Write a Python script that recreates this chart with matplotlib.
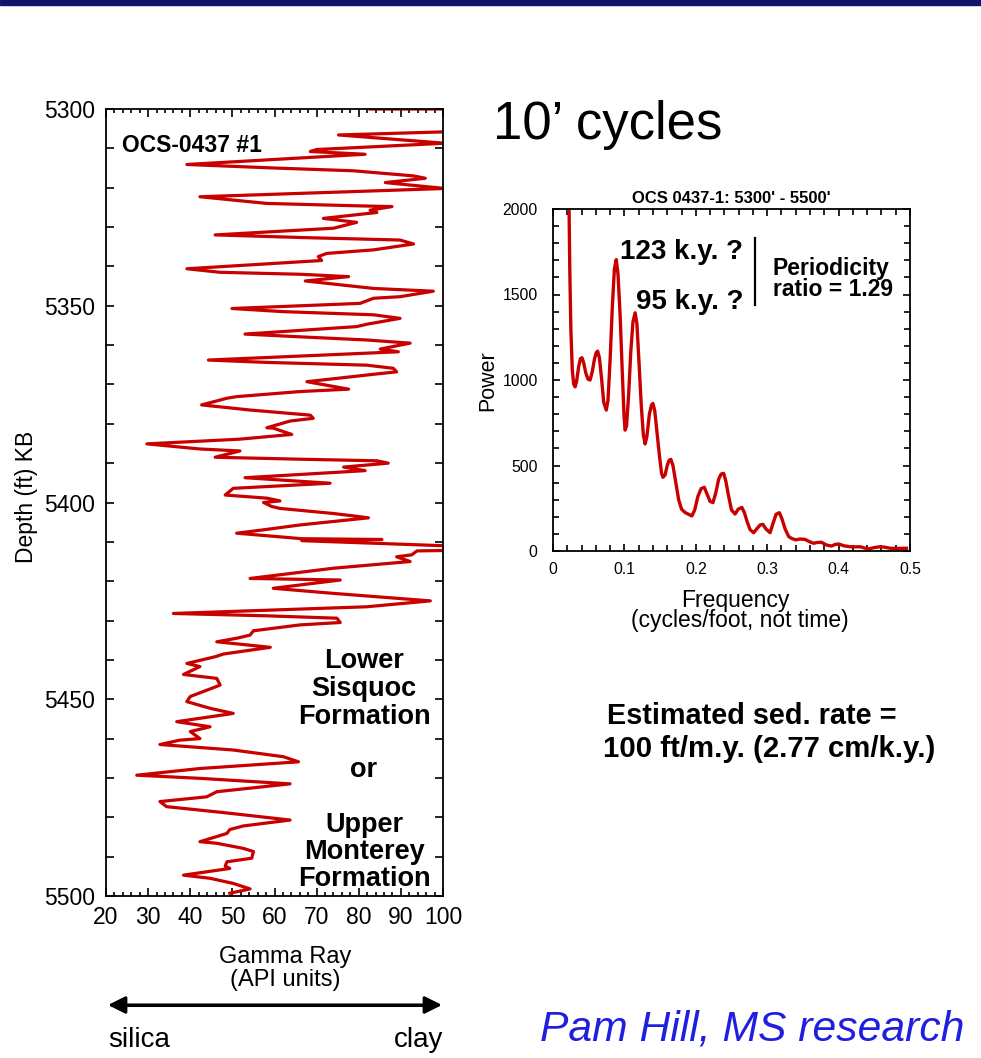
import numpy as np
import matplotlib
matplotlib.use("Agg")
import matplotlib.pyplot as plt
from matplotlib.patches import Rectangle
from matplotlib.lines import Line2D

plt.rcParams["font.family"] = ["Liberation Sans", "DejaVu Sans"]

# gamma ray log, OCS-0437 #1 (depth in ft KB, GR in API units)
depth = [5300.0, 5300.0, 5305.8, 5306.6, 5308.7, 5310.3, 5310.8, 5311.5, 5314.1, 5315.0,
         5315.7, 5317.0, 5317.6, 5318.7, 5320.2, 5322.3, 5324.0, 5324.6, 5324.8, 5325.7,
         5326.3, 5327.8, 5328.8, 5330.3, 5332.0, 5332.7, 5333.3, 5334.3, 5335.8, 5336.7,
         5337.5, 5338.5, 5340.6, 5341.5, 5342.0, 5342.6, 5343.7, 5345.6, 5346.3, 5347.7,
         5348.1, 5349.4, 5350.7, 5351.5, 5352.3, 5353.2, 5354.7, 5355.3, 5357.2, 5357.9,
         5358.7, 5359.5, 5361.0, 5361.7, 5363.8, 5364.4, 5365.1, 5365.9, 5366.8, 5367.3,
         5369.3, 5371.2, 5371.8, 5373.1, 5373.5, 5375.2, 5376.5, 5377.8, 5378.6, 5379.3,
         5381.0, 5381.1, 5382.7, 5383.9, 5385.1, 5386.4, 5386.9, 5388.5, 5389.0, 5389.4,
         5390.0, 5391.0, 5391.9, 5393.7, 5395.1, 5396.4, 5398.1, 5398.9, 5399.6, 5400.0,
         5401.0, 5401.5, 5402.8, 5403.4, 5403.9, 5405.7, 5407.0, 5407.8, 5409.2, 5409.4,
         5409.7, 5411.0, 5412.2, 5412.3, 5413.3, 5413.8, 5415.0, 5416.7, 5419.3, 5419.7,
         5421.8, 5423.1, 5425.0, 5426.5, 5428.2, 5428.8, 5429.4, 5430.5, 5431.1, 5432.6,
         5433.7, 5434.5, 5435.4, 5436.8, 5438.5, 5439.2, 5440.9, 5441.7, 5443.7, 5444.7,
         5446.4, 5449.3, 5450.6, 5452.3, 5453.6, 5455.7, 5457.0, 5458.2, 5460.0, 5460.4,
         5461.5, 5462.9, 5464.6, 5465.9, 5467.6, 5469.3, 5470.1, 5471.5, 5473.5, 5474.8,
         5476.0, 5477.3, 5478.8, 5480.7, 5482.2, 5483.1, 5484.1, 5486.2, 5486.6, 5487.9,
         5488.7, 5490.4, 5491.3, 5492.4, 5493.0, 5494.7, 5495.5, 5496.8, 5498.2, 5499.3]
gamma = [82.7, 100.5, 100.5, 75.2, 100.5, 70.0, 68.5, 81.5, 39.2, 60.0,
         78.7, 93.0, 95.8, 86.3, 100.5, 42.3, 58.2, 79.5, 87.9, 82.7,
         84.3, 71.6, 79.5, 74.0, 45.9, 67.7, 89.8, 93.0, 83.5, 72.4,
         70.4, 71.2, 39.2, 47.1, 66.1, 77.6, 67.3, 83.5, 97.7, 89.8,
         83.5, 80.3, 49.9, 62.1, 83.5, 89.8, 81.9, 79.5, 53.0, 66.1,
         81.9, 92.2, 85.1, 89.4, 44.3, 58.2, 81.9, 88.2, 89.0, 84.5,
         67.7, 77.6, 66.1, 51.0, 48.7, 42.7, 54.2, 68.5, 69.2, 63.7,
         58.2, 59.7, 64.1, 51.8, 29.7, 42.3, 51.8, 45.9, 66.1, 84.3,
         87.0, 76.4, 81.5, 53.0, 73.2, 50.2, 48.3, 58.2, 61.3, 57.4,
         59.3, 61.3, 74.0, 78.7, 82.3, 66.1, 57.0, 51.0, 66.5, 85.5,
         66.5, 100.5, 100.5, 93.8, 92.6, 89.0, 92.2, 74.0, 54.2, 75.6,
         59.7, 74.0, 97.0, 81.9, 36.0, 58.2, 74.8, 75.6, 66.1, 55.0,
         54.2, 51.0, 46.3, 59.0, 47.9, 45.9, 39.2, 42.3, 38.4, 46.3,
         47.1, 40.0, 39.2, 44.7, 50.2, 36.8, 44.7, 40.0, 42.3, 37.5,
         32.8, 50.2, 62.1, 65.7, 42.3, 27.3, 42.3, 63.7, 46.3, 43.9,
         32.8, 34.4, 47.9, 63.7, 52.6, 49.4, 48.7, 42.3, 46.3, 52.6,
         55.0, 54.6, 48.7, 48.3, 49.4, 38.4, 44.7, 50.2, 54.2, 49.4]

# power spectrum, OCS 0437-1: 5300' - 5500'
freq = [0.0225, 0.0235, 0.025, 0.027, 0.029, 0.031, 0.033, 0.036, 0.0385, 0.0406,
        0.043, 0.046, 0.049, 0.052, 0.055, 0.058, 0.0605, 0.0625, 0.065, 0.068,
        0.071, 0.0746, 0.077, 0.080, 0.083, 0.086, 0.0886, 0.091, 0.094, 0.097,
        0.0995, 0.101, 0.103, 0.106, 0.109, 0.112, 0.115, 0.1175, 0.1205, 0.1235,
        0.1265, 0.129, 0.1315, 0.135, 0.138, 0.140, 0.1425, 0.1455, 0.149, 0.152,
        0.154, 0.157, 0.160, 0.1625, 0.165, 0.168, 0.172, 0.176, 0.180, 0.185,
        0.1945, 0.1985, 0.203, 0.2075, 0.212, 0.2155, 0.220, 0.224, 0.228, 0.232,
        0.2355, 0.239, 0.242, 0.246, 0.250, 0.255, 0.2595, 0.2645, 0.268, 0.272,
        0.276, 0.281, 0.2855, 0.290, 0.294, 0.298, 0.304, 0.308, 0.3125, 0.317,
        0.3205, 0.325, 0.330, 0.334, 0.340, 0.346, 0.353, 0.359, 0.365, 0.370,
        0.376, 0.383, 0.390, 0.395, 0.400, 0.408, 0.416, 0.423, 0.430, 0.436,
        0.442, 0.450, 0.458, 0.465, 0.472, 0.482, 0.495]
power = [2000, 1650, 1300, 1060, 975, 960, 990, 1080, 1125, 1130,
         1100, 1040, 1005, 1000, 1050, 1120, 1160, 1169, 1130, 1010,
         870, 824, 880, 1120, 1420, 1650, 1704, 1620, 1380, 1050,
         790, 707, 730, 920, 1170, 1340, 1393, 1330, 1100, 860,
         680, 626, 670, 800, 855, 863, 820, 700, 560, 455,
         431, 445, 500, 530, 536, 500, 400, 300, 245, 225,
         205, 240, 320, 365, 372, 335, 290, 283, 340, 420,
         450, 454, 410, 320, 240, 216, 245, 255, 225, 170,
         125, 107, 130, 152, 156, 130, 107, 160, 215, 224,
         190, 130, 85, 74, 65, 70, 68, 55, 45, 50,
         51, 35, 29, 38, 41, 30, 25, 24, 25, 18,
         12, 20, 25, 22, 16, 15, 16]

RED = "#c80000"
W, H = 981, 1058


def fx(x):
    return x / W


def fy(y):
    return 1 - y / H


fig = plt.figure(figsize=(9.81, 10.58), dpi=100)
fig.patches.append(Rectangle((0, fy(5)), 1, 5 / H, transform=fig.transFigure,
                             color="#12146a", zorder=0))

# ---- left: gamma ray log
ax = fig.add_axes([fx(106), fy(896), fx(443) - fx(106), fy(109) - fy(896)])
ax.plot(gamma, depth, color=RED, lw=2.3)
ax.set_xlim(20, 100)
ax.set_ylim(5500, 5300)
ax.set_xticks(np.arange(20, 101, 10))
ax.set_xticks(np.arange(20, 101, 2), minor=True)
ax.set_yticks(np.arange(5300, 5501, 50))
ax.set_yticks(np.arange(5300, 5501, 10), minor=True)
ax.tick_params(which="both", direction="in", top=True, right=True, width=1.2,
               labelsize=16.5, colors="black")
ax.tick_params(axis="y", which="both", length=6, pad=8)
ax.tick_params(axis="x", which="major", length=6, pad=7)
ax.tick_params(axis="x", which="minor", length=3)
for s in ax.spines.values():
    s.set_linewidth(1.3)

ax.text(fx(122), fy(146), "OCS-0437 #1", transform=fig.transFigure,
        fontsize=16.5, fontweight="bold", va="center", ha="left")
for txt, y in [("Lower", 661), ("Sisquoc", 689), ("Formation", 717), ("or", 770),
               ("Upper", 825), ("Monterey", 852), ("Formation", 879)]:
    ax.text(fx(364), fy(y), txt, transform=fig.transFigure, fontsize=19.5,
            fontweight="bold", ha="center", va="center")

fig.text(fx(27), fy(497), "Depth (ft) KB", rotation=90, fontsize=16.5,
         ha="center", va="center")
fig.text(fx(285), fy(957), "Gamma Ray", fontsize=17, ha="center", va="center")
fig.text(fx(285), fy(980), "(API units)", fontsize=17, ha="center", va="center")

fig.add_artist(Line2D([fx(125), fx(425)], [fy(1005), fy(1005)],
                      transform=fig.transFigure, color="black", lw=2.2))
ax.annotate("", xy=(fx(108), fy(1005)), xytext=(fx(442), fy(1005)),
            xycoords="figure fraction", textcoords="figure fraction",
            arrowprops=dict(arrowstyle="<|-|>", color="black", lw=2.2,
                            mutation_scale=26, shrinkA=0, shrinkB=0))
fig.text(fx(108), fy(1040), "silica", fontsize=20, ha="left", va="center")
fig.text(fx(443), fy(1040), "clay", fontsize=20, ha="right", va="center")

# ---- right: power spectrum
bx = fig.add_axes([fx(553), fy(551), fx(910) - fx(553), fy(209) - fy(551)])
bx.plot(freq, power, color=RED, lw=2.4)
bx.set_xlim(0, 0.5)
bx.set_ylim(0, 2000)
bx.set_xticks(np.arange(0, 0.51, 0.1))
bx.set_xticklabels(["0", "0.1", "0.2", "0.3", "0.4", "0.5"])
bx.set_xticks(np.arange(0, 0.51, 0.02), minor=True)
bx.set_yticks(np.arange(0, 2001, 500))
bx.set_yticks(np.arange(0, 2001, 100), minor=True)
bx.tick_params(which="both", direction="in", top=True, right=True, width=1.2,
               labelsize=11.3)
bx.tick_params(which="major", length=5)
bx.tick_params(which="minor", length=4)
bx.tick_params(axis="y", pad=11)
bx.tick_params(axis="x", pad=8)
for s in bx.spines.values():
    s.set_linewidth(1.3)
bx.set_title("OCS 0437-1: 5300' - 5500'", fontsize=12, fontweight="bold", pad=4)

fig.text(fx(488), fy(381), "Power", rotation=90, fontsize=15.5,
         ha="center", va="center")
fig.text(fx(735), fy(600), "Frequency", fontsize=16.5, ha="center", va="center")
fig.text(fx(740), fy(621), "(cycles/foot, not time)", fontsize=16.5,
         ha="center", va="center")

fig.text(fx(743), fy(252), "123 k.y. ?", fontsize=20, fontweight="bold",
         ha="right", va="center")
fig.text(fx(743), fy(302), "95 k.y. ?", fontsize=20, fontweight="bold",
         ha="right", va="center")
fig.add_artist(Line2D([fx(755), fx(755)], [fy(238), fy(305)],
                      transform=fig.transFigure, color="black", lw=1.6))
fig.text(fx(773), fy(268), "Periodicity", fontsize=16.5, fontweight="bold",
         ha="left", va="center")
fig.text(fx(773), fy(289), "ratio = 1.29", fontsize=16.5, fontweight="bold",
         ha="left", va="center")

fig.text(fx(493), fy(125), "10\u2019 cycles", fontsize=38, ha="left", va="center")
fig.text(fx(607), fy(716), "Estimated sed. rate =", fontsize=20.8,
         fontweight="bold", ha="left", va="center")
fig.text(fx(603), fy(749), "100 ft/m.y. (2.77 cm/k.y.)", fontsize=21.2,
         fontweight="bold", ha="left", va="center")
fig.text(fx(540), fy(1030), "Pam Hill, MS research", fontsize=30.7,
         fontstyle="italic", color="#1f1fe0", ha="left", va="center")

fig.savefig("out.png", dpi=100)
